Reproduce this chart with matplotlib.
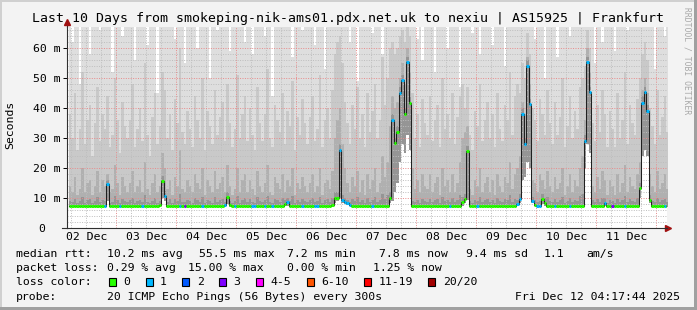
import numpy as np
import matplotlib
matplotlib.use("Agg")
import matplotlib.pyplot as plt
import matplotlib.dates as mdates
from matplotlib.patches import Rectangle
from datetime import datetime

plt.rcParams['font.family'] = ['DejaVu Sans Mono']

W, H = 697, 310
START = datetime(2025, 12, 2, 4, 17, 44)
END = datetime(2025, 12, 12, 4, 17, 44)
FIRST_STEP = np.datetime64('2025-12-02T05:00')   # hourly consolidated steps

# median rtt per hour (ms)
median = [
    7.4,7.4,7.3,7.4,7.4,7.3,7.3,7.4,7.4,7.4,7.3,7.3,7.4,7.4,7.5,14.7,7.4,7.3,7.3,7.4,7.4,7.3,7.3,7.4,
    7.3,7.3,7.4,7.4,7.3,7.4,7.4,7.3,7.3,7.4,7.4,7.5,7.6,15.8,10.8,7.4,7.3,7.3,7.4,7.4,7.4,7.3,7.3,7.4,
    7.4,7.4,7.3,7.3,7.4,7.4,7.4,7.3,7.3,7.4,7.5,7.4,7.4,7.5,7.7,10.2,7.6,7.4,7.4,7.3,7.3,7.4,7.4,7.3,
    7.3,7.4,7.4,7.3,7.3,7.4,7.4,7.3,7.3,7.4,7.3,7.3,7.4,7.5,8.0,8.8,7.5,7.4,7.3,7.3,7.4,7.4,7.3,7.3,
    7.3,7.3,7.4,7.4,7.3,7.3,7.4,7.4,7.5,7.6,9.9,9.9,26.0,9.3,8.8,8.3,7.8,7.5,7.4,7.3,7.3,7.4,7.4,7.3,
    7.3,7.4,7.4,7.3,7.3,7.4,7.4,7.4,10.0,36.0,28.3,32.0,45.0,49.3,38.0,55.4,41.8,7.3,7.3,7.4,7.4,7.3,7.3,7.4,
    7.3,7.3,7.4,7.4,7.3,7.3,7.4,7.4,7.5,7.4,7.3,7.3,7.4,8.8,9.6,25.8,7.4,7.3,7.3,7.4,7.4,7.3,7.3,7.4,
    7.3,7.4,7.4,7.3,7.3,7.4,7.4,7.3,7.3,7.4,7.4,7.9,9.7,38.0,28.0,54.0,41.3,9.0,7.8,7.5,7.5,9.7,8.5,7.3,
    7.3,7.4,7.4,7.3,7.3,7.4,7.4,7.3,7.4,7.4,7.3,7.3,7.4,7.4,29.0,55.2,45.2,7.4,7.3,7.3,7.4,7.4,8.2,7.4,
    7.4,7.3,7.3,7.4,7.4,7.3,7.3,7.4,7.4,7.3,7.4,7.5,13.4,41.8,45.4,39.0,9.4,7.3,7.3,7.4,7.4,7.3,7.5,7.4,
]

# lost pings out of 20 per hour
loss = [
    0,0,0,0,0,0,0,0,0,0,0,0,0,0,1,1,0,0,0,0,1,0,0,0,
    0,0,0,0,0,1,0,0,0,0,0,0,0,0,1,0,0,0,0,0,1,0,3,0,
    0,0,0,0,0,1,0,0,0,0,0,0,0,0,1,0,0,0,1,0,0,0,0,0,
    0,1,1,0,0,0,1,0,0,1,0,0,0,0,0,1,0,0,0,0,0,1,0,0,
    0,0,1,1,0,0,0,0,0,0,0,0,1,1,1,1,1,0,0,0,0,0,0,0,
    0,1,0,0,0,0,0,0,0,1,0,0,1,1,0,1,0,0,0,0,0,0,0,0,
    0,0,0,0,0,0,0,0,1,0,0,0,0,0,0,0,0,0,0,1,0,0,0,0,
    0,0,0,0,0,0,0,0,0,0,0,1,1,1,1,1,1,1,0,1,1,0,0,0,
    0,0,1,0,0,0,0,0,1,0,0,0,0,0,1,1,1,0,0,0,0,0,1,0,
    0,3,0,0,0,0,1,0,0,0,0,0,0,1,1,1,0,0,0,0,0,0,1,0,
]

# smoke: fastest ping, then upper edges of the grey bands (inner -> outer)
smoke_min = [
    7.0,7.1,7.0,7.0,7.1,7.0,7.0,7.1,7.0,7.0,7.0,7.1,7.0,7.0,7.0,9.0,7.0,7.1,7.0,7.0,7.0,7.1,7.0,7.0,
    7.0,7.0,7.1,7.0,7.0,7.0,7.1,7.0,7.0,7.1,7.0,7.0,7.1,10.0,9.0,7.0,7.0,7.1,7.0,7.0,7.0,7.0,7.1,7.0,
    7.0,7.1,7.0,7.0,7.0,7.1,7.0,7.0,7.1,7.0,7.0,7.0,7.1,7.0,7.0,8.0,7.0,7.0,7.1,7.0,7.0,7.1,7.0,7.0,
    7.0,7.0,7.1,7.0,7.0,7.0,7.1,7.0,7.0,7.1,7.0,7.0,7.0,7.1,7.2,7.5,7.0,7.0,7.1,7.0,7.0,7.0,7.1,7.0,
    7.0,7.1,7.0,7.0,7.0,7.1,7.0,7.0,7.1,7.0,8.5,9.0,10.0,8.5,8.0,7.6,7.2,7.0,7.1,7.0,7.0,7.0,7.1,7.0,
    7.0,7.0,7.1,7.0,7.0,7.0,7.1,7.0,8.5,9.0,12.0,15.0,22.0,28.0,25.0,31.0,26.0,7.0,7.1,7.0,7.0,7.1,7.0,7.0,
    7.0,7.1,7.0,7.0,7.0,7.1,7.0,7.0,7.0,7.1,7.0,7.0,7.0,7.4,8.5,9.5,7.0,7.0,7.1,7.0,7.0,7.0,7.1,7.0,
    7.0,7.0,7.1,7.0,7.0,7.0,7.1,7.0,7.0,7.1,7.0,7.2,8.5,16.0,17.0,22.0,20.0,8.5,7.2,7.0,7.0,8.0,7.5,7.0,
    7.0,7.1,7.0,7.0,7.1,7.0,7.0,7.0,7.1,7.0,7.0,7.1,7.0,7.0,20.0,28.0,25.0,7.0,7.0,7.1,7.0,7.0,7.3,7.0,
    7.0,7.0,7.1,7.0,7.0,7.1,7.0,7.0,7.0,7.1,7.0,7.0,10.0,24.0,26.0,24.0,8.5,7.0,7.1,7.0,7.0,7.0,7.1,7.0,
]
smoke_lo = [
    9.0,8.6,9.8,8.4,8.9,10.5,8.5,9.3,9.6,8.3,9.0,10.2,8.6,9.4,9.0,16.0,8.5,8.8,10.8,9.2,8.4,9.8,9.0,8.6,
    9.2,10.0,8.5,9.0,9.5,8.6,11.0,8.8,8.3,9.1,9.9,8.5,9.0,17.5,12.5,8.8,9.6,8.4,9.8,9.0,11.5,8.7,8.6,9.4,
    9.0,8.5,9.9,9.2,8.8,10.5,8.3,9.5,9.0,8.5,10.2,8.8,9.3,9.7,8.6,12.0,9.0,8.4,8.9,10.6,8.5,9.5,9.9,8.6,
    9.6,8.8,8.4,10.2,9.1,8.6,9.3,10.8,8.6,8.4,9.8,9.2,8.8,10.0,9.2,10.0,9.1,10.6,8.4,9.3,8.8,9.8,9.1,8.6,
    9.3,9.9,8.6,9.0,10.5,8.4,9.2,9.6,8.8,10.0,12.0,12.0,28.0,11.0,10.0,9.5,8.8,9.6,9.0,10.2,8.6,9.4,8.4,9.9,
    8.8,9.5,10.4,8.6,9.2,11.5,9.8,11.0,12.0,38.0,30.0,34.0,47.0,51.0,40.0,57.0,44.0,9.0,8.8,9.5,8.5,9.8,9.0,8.8,
    9.8,8.6,9.2,9.7,8.4,10.5,9.0,9.5,8.8,9.9,8.6,9.3,11.0,10.5,11.5,27.5,8.9,8.4,9.4,9.0,10.4,8.6,9.2,9.6,
    8.6,9.5,8.4,9.9,9.0,8.6,9.7,9.2,11.0,8.8,9.8,9.5,11.5,40.0,30.0,56.0,43.0,10.5,9.2,8.8,9.0,11.5,10.0,10.2,
    9.0,8.6,9.7,8.8,9.2,10.5,8.4,9.0,9.9,8.6,9.5,9.0,10.8,11.5,31.0,57.0,47.0,9.2,8.6,9.7,8.8,10.0,10.0,8.4,
    9.5,9.0,8.4,9.8,8.6,9.2,10.8,8.6,9.7,9.1,8.8,10.0,15.0,44.0,47.0,41.0,11.0,9.0,8.6,10.0,8.8,9.2,9.8,8.8,
]
smoke_mid = [
    14,12,17,11,13,20,12,15,16,11,14,19,12,16,14,18,12,13,21,15,11,17,14,12,
    15,19,12,14,16,12,22,13,11,15,18,12,14,25,20,13,16,11,17,14,26,13,12,16,
    14,12,18,15,13,20,11,16,14,12,19,13,15,17,12,21,14,11,13,20,12,16,18,12,
    16,13,11,19,14,12,15,21,12,11,17,15,13,18,12,16,14,20,11,15,13,17,14,12,
    15,18,12,14,20,11,15,16,13,19,30,36,40,28,20,15,12,17,14,19,12,16,11,18,
    13,16,20,12,15,24,17,22,34,44,40,42,50,55,48,60,52,20,13,16,12,18,14,13,
    18,12,15,17,11,20,14,16,12,18,12,15,22,30,32,34,13,11,16,14,20,12,15,17,
    12,16,11,18,14,12,17,15,22,13,18,20,24,42,38,57,48,16,15,12,18,16,13,19,
    14,12,17,13,15,20,11,14,18,12,16,14,20,24,36,60,52,14,12,17,13,19,16,11,
    16,14,11,18,12,15,21,12,17,14,13,18,22,46,50,45,18,14,12,19,13,15,18,13,
]
smoke_hi = [
    38,30,45,26,33,52,28,36,41,24,35,47,29,38,33,44,27,31,50,36,25,42,34,30,
    36,48,27,33,40,29,55,31,24,37,45,28,34,52,46,30,38,26,43,35,60,32,28,39,
    33,27,44,36,30,50,26,39,34,28,46,31,37,42,29,48,35,27,33,51,30,38,44,29,
    40,31,26,47,35,29,38,53,30,27,41,36,32,45,28,39,34,49,26,37,31,43,35,28,
    37,44,29,33,51,27,36,40,30,46,58,62,64,55,42,35,28,41,33,47,30,38,27,45,
    32,39,48,30,36,57,41,50,60,62,58,60,64,66,62,68,64,45,30,38,27,43,35,31,
    44,29,36,41,27,50,33,38,30,45,28,37,44,48,40,47,31,26,39,34,48,29,36,42,
    30,38,27,45,33,29,41,36,52,31,44,48,45,55,50,65,58,40,36,29,43,38,31,46,
    35,28,42,31,37,50,27,34,44,30,39,33,47,50,54,66,60,35,29,41,32,46,38,27,
    39,33,27,45,30,36,52,28,41,35,31,43,50,58,62,56,40,34,28,46,31,37,44,32,
]
smoke_max = [
    70,62,70,70,48,70,70,70,58,70,70,70,66,70,70,70,70,52,70,70,70,64,70,70,
    70,70,56,70,70,70,70,61,70,70,70,45,70,70,70,70,70,70,63,70,70,70,55,70,
    70,70,70,60,70,70,70,70,50,70,70,66,70,70,70,70,59,70,70,70,70,70,62,70,
    70,58,70,70,70,70,64,70,70,44,70,70,70,70,70,70,70,57,70,70,70,66,70,70,
    70,70,61,70,70,70,53,70,70,70,70,70,70,70,70,70,62,70,70,49,70,70,70,70,
    70,65,70,70,70,58,70,70,70,70,70,70,70,70,70,70,70,70,70,63,70,56,70,70,
    70,70,52,70,70,70,70,60,70,70,70,70,47,70,70,70,70,65,70,70,58,70,70,70,
    70,61,70,70,70,70,54,70,70,70,70,70,70,70,70,70,70,70,63,70,70,70,50,70,
    70,70,70,57,70,70,70,70,64,70,70,70,70,70,70,70,70,70,55,70,70,62,70,70,
    70,70,59,70,70,70,70,66,70,70,70,70,70,70,70,70,70,70,53,70,70,70,64,70,
]

loss_labels = ['0', '1', '2', '3', '4-5', '6-10', '11-19', '20/20']
loss_colors = ['#26ff00', '#00b8ff', '#0059ff', '#7e00ff', '#ff00ff', '#ff5500', '#ff0000', '#a10000']
loss_upper = [0, 1, 2, 3, 5, 10, 19, 20]

y_ticks = [0, 10, 20, 30, 40, 50, 60]

title = 'Last 10 Days from smokeping-nik-ams01.pdx.net.uk to nexiu | AS15925 | Frankfurt'
rtt_stats = ['10.2 ms avg', '55.5 ms max', '7.2 ms min', '7.8 ms now', '9.4 ms sd', '1.1', 'am/s']
loss_stats = ['0.29 % avg', '15.00 % max', '0.00 % min', '1.25 % now']
probe_text = '20 ICMP Echo Pings (56 Bytes) every 300s'
stamp = 'Fri Dec 12 04:17:44 2025'


def fx(x):
    return x / W


def fy(y):
    return 1 - y / H


def ext(a):
    a = np.asarray(a, dtype=float)
    return np.append(a, a[-1])


def loss_color(n):
    for up, c in zip(loss_upper, loss_colors):
        if n <= up:
            return c
    return loss_colors[-1]


fig = plt.figure(figsize=(W / 100, H / 100), dpi=100, facecolor='#f3f3f3')
ax = fig.add_axes([fx(67), fy(228), fx(667) - fx(67), fy(27) - fy(228)])
ax.set_facecolor('white')

edges = FIRST_STEP + np.arange(len(median) + 1) * np.timedelta64(1, 'h')
x = mdates.date2num(edges)

# smoke bands
bands = [(smoke_max, '#dedede'), (smoke_hi, '#c9c9c9'), (smoke_mid, '#b0b0b0'), (smoke_lo, '#959595')]
for top, col in bands:
    ax.fill_between(x, ext(smoke_min), ext(top), step='post', color=col, lw=0, zorder=1)

# grid
dots = (0, (1, 1.5))
for v in mdates.HourLocator(byhour=[6, 12, 18]).tick_values(START, END):
    ax.axvline(v, color='#bdbdbd', lw=0.7, ls=dots, zorder=2)
for v in mdates.DayLocator().tick_values(START, END):
    ax.axvline(v, color='#e88a8a', lw=0.7, ls=dots, zorder=2)
for v in range(2, 67, 2):
    if v % 10:
        ax.axhline(v, color='#bdbdbd', lw=0.7, ls=dots, zorder=2)
for v in y_ticks[1:]:
    ax.axhline(v, color='#e88a8a', lw=0.7, ls=dots, zorder=2)

# median line with loss colours
ax.step(x, ext(median), where='post', color='#202020', lw=0.75, zorder=3)
ax.hlines(median, x[:-1], x[1:], colors=[loss_color(n) for n in loss], lw=2.2, zorder=4,
          capstyle='butt')

ax.set_xlim(mdates.date2num(START), mdates.date2num(END))
ax.set_ylim(0, 67)

ax.xaxis.set_major_locator(mdates.HourLocator(byhour=12))
ax.xaxis.set_major_formatter(mdates.DateFormatter('%d %b'))
ax.tick_params(axis='x', length=0, pad=3.2, labelsize=8.25)
ax.set_yticks(y_ticks)
ax.set_yticklabels(['0\u00a0\u00a0'] + [f'{v} m' for v in y_ticks[1:]])
ax.tick_params(axis='y', direction='out', length=3, width=0.7, pad=2, labelsize=8.25)

for s in ['top', 'right']:
    ax.spines[s].set_visible(False)
for s in ['left', 'bottom']:
    ax.spines[s].set_color('#303030')
    ax.spines[s].set_linewidth(0.8)
    ax.spines[s].set_zorder(5)

# axis extensions and arrows
ax.plot([0, 0], [1, 1.02], transform=ax.transAxes, color='#303030', lw=0.8, clip_on=False)
ax.plot([-0.008, 0], [0, 0], transform=ax.transAxes, color='#303030', lw=0.8, clip_on=False)
ax.plot([0], [1.025], marker='^', ms=4.5, color='#a01010', transform=ax.transAxes, clip_on=False)
ax.plot([1.002], [0], marker='>', ms=4.5, color='#a01010', transform=ax.transAxes, clip_on=False)

# frame shading
fig.patches.append(Rectangle((0, fy(2)), 1, fy(0) - fy(2), transform=fig.transFigure,
                             facecolor='#d0d0d0', lw=0))
fig.patches.append(Rectangle((0, 0), fx(2), 1, transform=fig.transFigure, facecolor='#d0d0d0', lw=0))
fig.patches.append(Rectangle((0, 0), 1, 1 - fy(3), transform=fig.transFigure, facecolor='#a0a0a0', lw=0))
fig.patches.append(Rectangle((fx(694), 0), 1 - fx(694), 1, transform=fig.transFigure,
                             facecolor='#a0a0a0', lw=0))

# texts
fs = 8.25
fig.text(0.4986, fy(18.5), title, ha='center', va='center', fontsize=9.5)
fig.text(fx(10), fy(125), 'Seconds', rotation=90, ha='center', va='center', fontsize=fs)
fig.text(fx(687), fy(7), 'RRDTOOL / TOBI OETIKER', rotation=270, ha='center', va='top',
         fontsize=5.8, color='#a8a8a8')

y1, y2, y3, y4 = 254, 268, 282, 296.5
fig.text(fx(16), fy(y1), 'median rtt:', va='center', fontsize=fs)
for s, px in zip(rtt_stats, [107.3, 199.3, 287.3, 379.3, 466, 544, 586]):
    fig.text(fx(px), fy(y1), s, va='center', fontsize=fs)
fig.text(fx(16), fy(y2), 'packet loss:', va='center', fontsize=fs)
for s, px in zip(loss_stats, [107.3, 187.7, 287.3, 372.7]):
    fig.text(fx(px), fy(y2), s, va='center', fontsize=fs)
fig.text(fx(16), fy(y3), 'loss color:', va='center', fontsize=fs)
bx = 108.7
for lab, c in zip(loss_labels, loss_colors):
    fig.patches.append(Rectangle((fx(bx), fy(y3 + 4)), fx(7), fy(y3 - 4) - fy(y3 + 4),
                                 transform=fig.transFigure, facecolor=c, edgecolor='black', lw=0.8))
    fig.text(fx(bx + 14.6), fy(y3), lab, va='center', fontsize=fs)
    bx = bx + 14.6 + len(lab) * 6.9 + 15.3
fig.text(fx(16), fy(y4), 'probe:', va='center', fontsize=fs)
fig.text(fx(107.3), fy(y4), probe_text, va='center', fontsize=fs)
fig.text(fx(680), fy(y4), stamp, va='center', ha='right', fontsize=fs)

fig.savefig('out.png', dpi=100, facecolor=fig.get_facecolor())
